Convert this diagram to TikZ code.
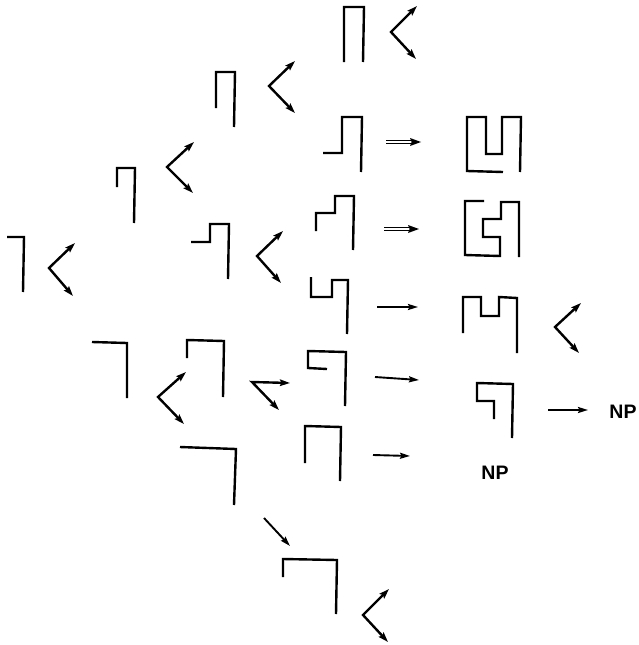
\documentclass[tikz,border=0pt]{standalone}
\usepackage{fontspec}
\setmainfont{Liberation Sans}
\usetikzlibrary{arrows.meta}
\tikzset{
  shp/.style={line width=2.4pt, line join=miter, line cap=butt},
  fork/.style={line width=2.4pt, line join=miter,
    {Stealth[length=10pt,width=6.5pt,inset=1.5pt]}-{Stealth[length=10pt,width=6.5pt,inset=1.5pt]}},
  harr/.style={line width=1.9pt, -{Stealth[length=10pt,width=6pt,inset=1.5pt]}},
  dline/.style={line width=1.1pt},
  lbl/.style={font=\bfseries\fontsize{19.5}{19.5}\selectfont, inner sep=0pt}
}
\newcommand{\mydbl}[2]{%
  \draw[dline] ([yshift=1.8pt]#1) -- ([yshift=1.8pt,xshift=-7pt]#2)
               ([yshift=-1.8pt]#1) -- ([yshift=-1.8pt,xshift=-7pt]#2);
  \fill (#2) -- ++(-11,-4) -- ++(1.6,4) -- ++(-1.6,4) -- cycle;}
\begin{document}
\begin{tikzpicture}[x=1pt,y=-1pt]
\useasboundingbox (0,0) rectangle (638,645);

% ---- shapes ----
\draw[shp] (344,62) -- (344,7) -- (364,7) -- (363,62);              % C
\draw[shp] (216,108) -- (216,72) -- (235,72) -- (234,127);          % A
\draw[shp] (117,187) -- (117,168) -- (135,168) -- (134,223);        % B
\draw[shp] (323,153) -- (342,153) -- (342,117) -- (362,117) -- (361,172); % D
\draw[shp] (503,172) -- (467,171) -- (467,117) -- (486,117) -- (486,154)
           -- (502,154) -- (502,117) -- (521,117) -- (520,172);     % E
\draw[shp] (316,231) -- (316,213) -- (335,213) -- (335,196) -- (354,196) -- (353,250); % F
\draw[shp] (484,201) -- (465,201) -- (465,255) -- (500,256) -- (500,237)
           -- (483,237) -- (483,219) -- (501,219) -- (501,202) -- (519,202) -- (519,257); % G
\draw[shp] (311,277) -- (311,297) -- (332,297) -- (332,280) -- (348,280) -- (347,334); % H
\draw[shp] (463,333) -- (463,297) -- (481,297) -- (481,316) -- (499,316)
           -- (499,297) -- (517,298) -- (517,353);                   % I
\draw[shp] (7,237) -- (24,237) -- (23,292);                         % J
\draw[shp] (191,242) -- (210,242) -- (210,224) -- (229,224) -- (228,279); % K
\draw[shp] (92,342) -- (127,343) -- (127,398);                      % L
\draw[shp] (187,358) -- (187,340) -- (224,341) -- (223,397);        % M
\draw[shp] (327,369) -- (308,368) -- (308,351) -- (346,352) -- (345,406); % O
\draw[shp] (305,463) -- (305,426) -- (341,427) -- (340,481);        % P
\draw[shp] (180,447) -- (236,449) -- (234,505);                     % Q
\draw[shp] (494,419) -- (494,401) -- (477,401) -- (477,383) -- (513,384) -- (512,438); % R
\draw[shp] (283,577) -- (283,559) -- (337,560) -- (336,614);        % T

% ---- forks ----
\coordinate (cv) at (391,32);  \coordinate (cu) at (417,6);   \coordinate (cl) at (416,59);
\draw[fork] (cu) -- (cv) -- (cl);
\coordinate (av) at (269,86);  \coordinate (au) at (295,61);  \coordinate (al) at (295,113);
\draw[fork] (au) -- (av) -- (al);
\coordinate (bv) at (167,167); \coordinate (bu) at (194,142); \coordinate (bl) at (193,193);
\draw[fork] (bu) -- (bv) -- (bl);
\coordinate (jv) at (49,268);  \coordinate (ju) at (75,243);  \coordinate (jl) at (73,296);
\draw[fork] (ju) -- (jv) -- (jl);
\coordinate (kv) at (257,256); \coordinate (ku) at (283,231); \coordinate (kl) at (281,283);
\draw[fork] (ku) -- (kv) -- (kl);
\coordinate (iv) at (555,327); \coordinate (iu) at (581,303); \coordinate (il) at (579,353);
\draw[fork] (iu) -- (iv) -- (il);
\coordinate (mv) at (158,397); \coordinate (mu) at (186,372); \coordinate (ml) at (184,424);
\draw[fork] (mu) -- (mv) -- (ml);
\coordinate (nv) at (252,382); \coordinate (nu) at (290,383); \coordinate (nl) at (279,410);
\draw[fork] (nu) -- (nv) -- (nl);
\coordinate (tv) at (363,615); \coordinate (tu) at (389,589); \coordinate (tl) at (388,642);
\draw[fork] (tu) -- (tv) -- (tl);

% ---- single arrows ----
\coordinate (h1) at (377,307); \coordinate (h2) at (418,307);
\draw[harr] (h1) -- (h2);
\coordinate (o1) at (375,377); \coordinate (o2) at (419,380);
\draw[harr] (o1) -- (o2);
\coordinate (p1) at (373,455); \coordinate (p2) at (410,456);
\draw[harr] (p1) -- (p2);
\coordinate (r1) at (548,410); \coordinate (r2) at (588,410);
\draw[harr] (r1) -- (r2);
\coordinate (s1) at (264,518); \coordinate (s2) at (290,546);
\draw[harr] (s1) -- (s2);

% ---- double arrows ----
\coordinate (d1) at (386,142); \coordinate (d2) at (421,142);
\mydbl{d1}{d2}
\coordinate (e1) at (384,229); \coordinate (e2) at (419,229);
\mydbl{e1}{e2}

% ---- labels ----
\node[lbl] (np1) at (623,412) {NP};
\node[lbl] (np2) at (495,473) {NP};
\end{tikzpicture}
\end{document}
